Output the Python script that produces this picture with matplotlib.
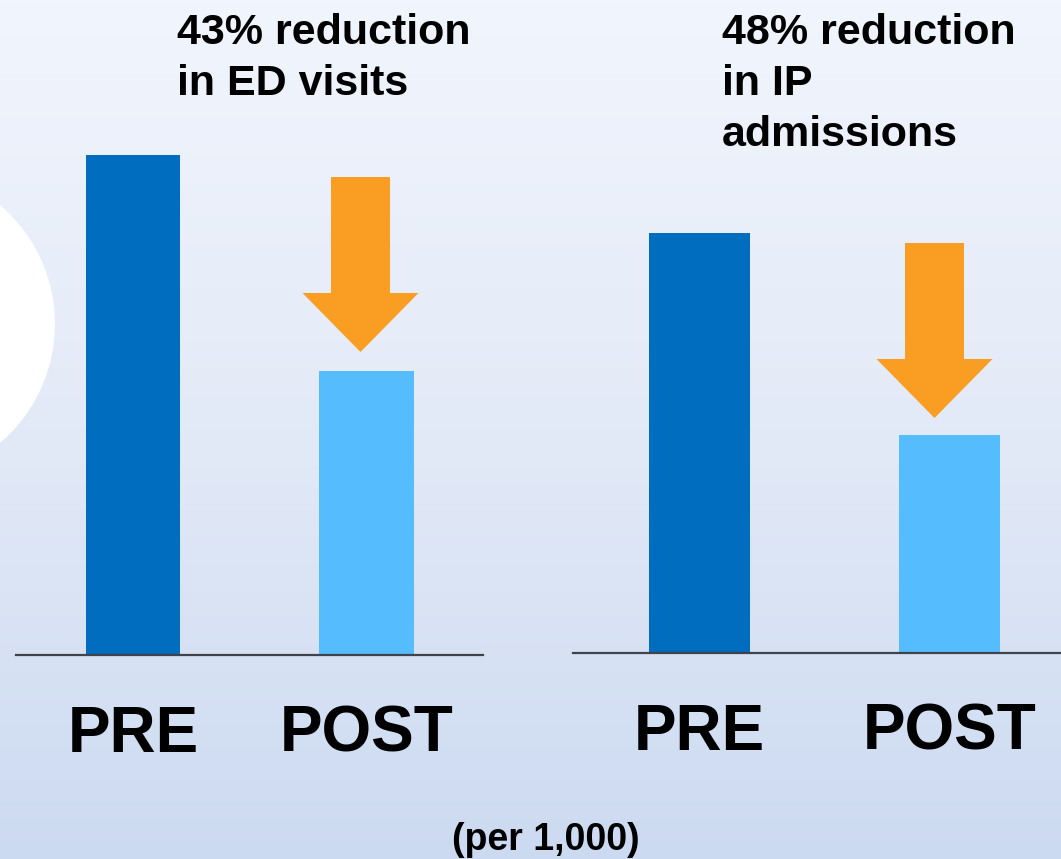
import numpy as np
import matplotlib
matplotlib.use("Agg")
import matplotlib.pyplot as plt
from matplotlib.patches import Polygon, Circle
from matplotlib.colors import LinearSegmentedColormap

plt.rcParams['font.family'] = ['Liberation Sans', 'DejaVu Sans']
plt.rcParams['font.weight'] = 'bold'

# data (per 1,000)
periods = ["PRE", "POST"]
ed_visits = [500, 284]
ip_admissions = [420, 218]
titles = [["43% reduction", "in ED visits"], ["48% reduction", "in IP", "admissions"]]
note = "(per 1,000)"

W, H = 1061, 859
fig = plt.figure(figsize=(W / 100, H / 100), dpi=100)

# background gradient + white circle on the left
bg = fig.add_axes([0, 0, 1, 1], zorder=-10)
cmap = LinearSegmentedColormap.from_list("bg", ["#f1f5fd", "#e3eaf7", "#ccdaf1"])
grad = np.linspace(0, 1, 256).reshape(-1, 1)
bg.imshow(grad, cmap=cmap, aspect="auto", extent=[0, W, H, 0])
bg.add_patch(Circle((-101, 324), 156, color="white", ec="none"))
bg.set_xlim(0, W)
bg.set_ylim(H, 0)
bg.axis("off")

c_pre = "#006dbf"
c_post = "#55bcfe"
c_arrow = "#f99e23"


def panel(left, right, base, centers, values, arrow_off, tip_gap, title_x, title):
    # axes from the baseline up to the top of the figure, 1 y unit = 1 px
    ax = fig.add_axes([left / W, (H - base) / H, (right - left) / W, base / H])
    ax.patch.set_alpha(0)
    ppu = centers[1] - centers[0]  # pixels per x unit
    ax.set_xlim(-(centers[0] - left) / ppu, 1 + (right - centers[1]) / ppu)
    ax.set_ylim(0, base)
    x = np.arange(len(values))
    ax.bar(x, values, width=0.404, color=[c_pre, c_post], zorder=2)
    for s in ["top", "right", "left"]:
        ax.spines[s].set_visible(False)
    ax.spines["bottom"].set_color("#40444a")
    ax.spines["bottom"].set_linewidth(1.6)
    ax.spines["bottom"].set_zorder(3)
    ax.set_xticks([])
    ax.set_yticks([])

    # down arrow over the POST bar
    tip = values[1] + tip_gap
    tail = tip + 175
    neck = tip + 59
    cx = 1 + arrow_off / ppu
    sw = 29.5 / ppu
    hw = 58 / ppu
    pts = [(cx - sw, tail), (cx + sw, tail), (cx + sw, neck), (cx + hw, neck),
           (cx, tip), (cx - hw, neck), (cx - sw, neck)]
    ax.add_patch(Polygon(pts, closed=True, color=c_arrow, ec="none",
                         zorder=3, clip_on=False))

    for xi, lab in zip(x, periods):
        ax.text(xi, -97, lab, ha="center", va="baseline", fontsize=46,
                fontweight="bold", color="black", clip_on=False)

    # title lines, baselines 50 px apart
    for i, line in enumerate(title):
        fig.text(title_x / W, 1 - (44 + 51 * i) / H, line, ha="left",
                 va="baseline", fontsize=31, fontweight="bold")
    return ax


panel(16, 483, 655, [133, 366.5], ed_visits, -6, 19, 177, titles[0])
panel(573, 1061, 653, [699.5, 949.5], ip_admissions, -15, 17, 722, titles[1])

fig.text(546 / W, 1 - 850 / H, note, ha="center", va="baseline",
         fontsize=27, fontweight="bold")

fig.savefig("out.png", dpi=100)
